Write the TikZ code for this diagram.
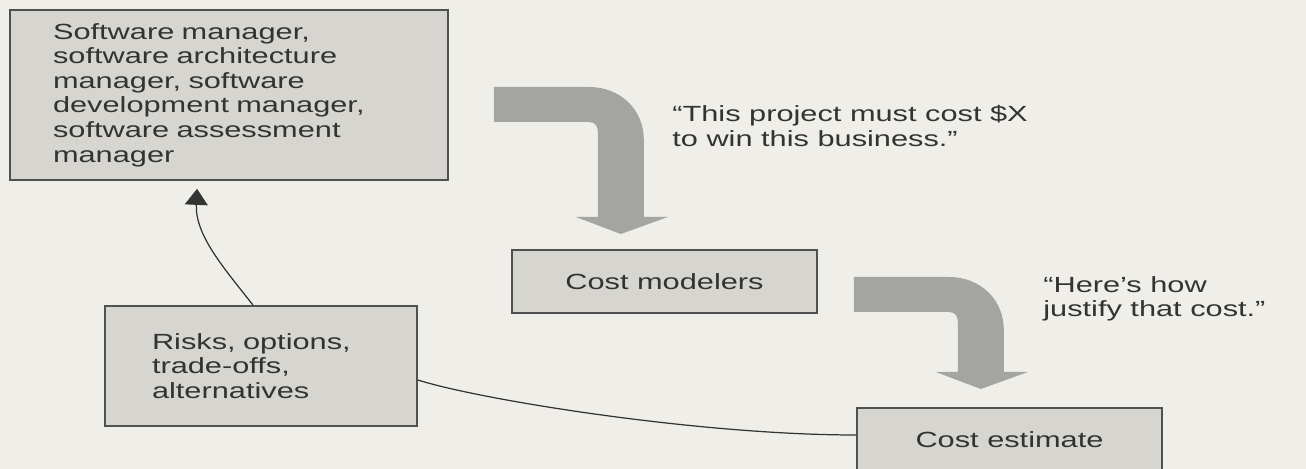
\documentclass[tikz,border=0pt]{standalone}
\usepackage{fontspec}
\setmainfont{Liberation Sans}[FakeStretch=1.4]
\usetikzlibrary{arrows.meta}
\usetikzlibrary{calc}
\definecolor{paper}{HTML}{EFEEE9}
\definecolor{boxfill}{HTML}{D6D5CF}
\definecolor{boxline}{HTML}{505050}
\definecolor{bigarrow}{HTML}{A4A4A2}
\definecolor{ink}{HTML}{333333}

% bent block arrow: #1 top-left corner, #2 straight drop of the shaft
\newcommand{\bentarrow}[2]{%
  \fill[bent] (#1) -- ++(95,0) .. controls +(32,0) and +(0,-30) .. ++(55,53)
    -- ++(0,#2) -- ++(24,0) -- ++(-47,17) -- ++(-45,-17) -- ++(22,0)
    -- ++(0,{-(#2)-8}) .. controls +(0,-6) and +(6,0) .. ++(-9,-10)
    -- ++(-95,0) -- cycle;}

\begin{document}
\begin{tikzpicture}[x=0.02cm, y=-0.02cm,
    box/.style={draw=boxline, line width=1pt, fill=boxfill, inner sep=0pt,
      text=ink, font=\fontsize{12.5}{14}\selectfont},
    quote/.style={anchor=north west, inner sep=0pt, align=left, text=ink,
      font=\fontsize{12.5}{14}\selectfont},
    bent/.style={fill=bigarrow},
    thinarrow/.style={draw=ink, line width=0.7pt, -{Triangle[length=0.32cm,width=0.46cm]}},
    link/.style={draw=ink, line width=0.7pt}]

    % Paper
    \fill[paper] (0,0) rectangle (1306,469);
    \useasboundingbox (0,0) rectangle (1306,469);

    % Boxes
    \node[box, minimum width=8.76cm, minimum height=3.4cm, text width=7.04cm, align=left]
        (mgr) at (229,95) {Software manager,\\ software architecture\\ manager, software\\
        development manager,\\ software assessment\\ manager};
    \node[box, minimum width=6.1cm, minimum height=1.26cm] (modelers) at (664.5,281.5) {Cost modelers};
    \node[box, minimum width=6.1cm, minimum height=1.28cm] (estimate) at (1009.5,440) {Cost estimate};
    \node[box, minimum width=6.24cm, minimum height=2.4cm, text width=4.36cm, align=left]
        (risks) at (261,366) {Risks, options,\\ trade-offs,\\ alternatives};

    % Quotes
    \node[quote] (win) at (672,105) {“This project must cost \$X\\ to win this business.”};
    \node[quote] (justify) at (1043,276) {“Here's how\\ justify that cost.”};

    % Big arrows
    \bentarrow{$(mgr.east)+(45,-8)$}{77}
    \bentarrow{$(modelers.east)+(36,-4.5)$}{42}

    % Thin connectors
    \draw[thinarrow] ([xshift=-0.16cm]risks.north) .. controls +(-28,-36) and +(-2,47)
        .. ([xshift=-0.64cm,yshift=-0.16cm]mgr.south);
    \draw[link] ([yshift=-0.28cm]risks.east) .. controls +(63,20) and +(-157,0)
        .. ([yshift=0.1cm]estimate.west);
\end{tikzpicture}
\end{document}
